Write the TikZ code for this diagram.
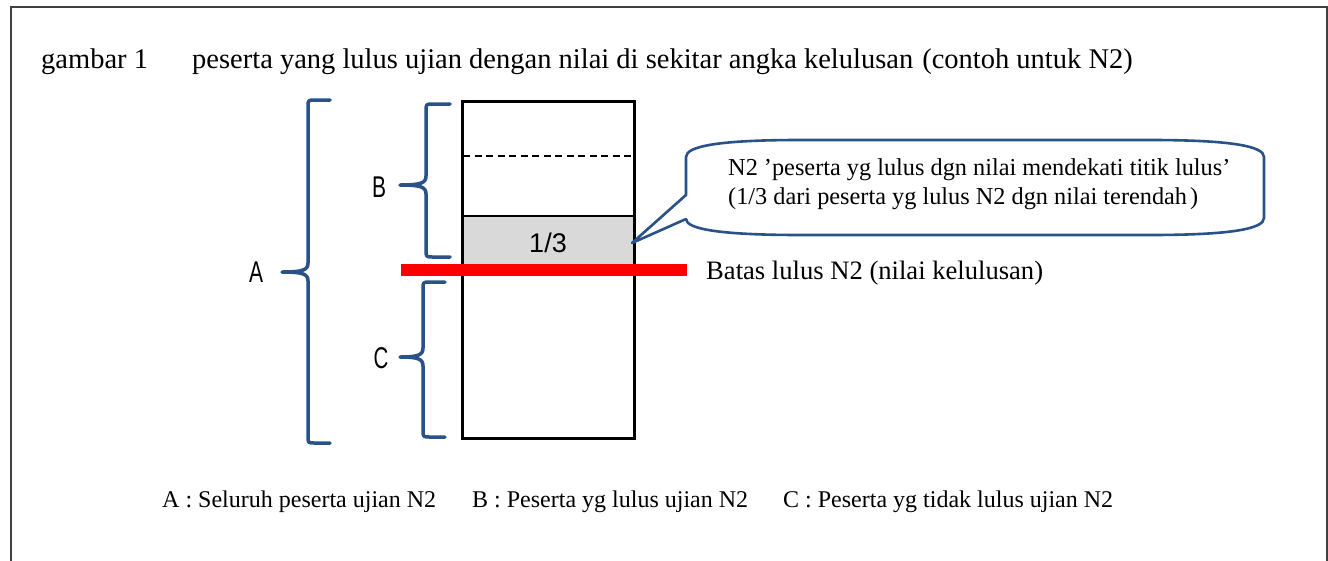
\documentclass[tikz,border=0pt]{standalone}
\usepackage{fontspec}
\setmainfont{Liberation Serif}
\newfontfamily\labfont{Liberation Sans}
\definecolor{braceblue}{RGB}{41,82,136}
\definecolor{grayfill}{RGB}{217,217,217}
\definecolor{framegray}{RGB}{64,64,64}
\newcommand\bracepath[6]{% tipx, spinex, cuspx, ytop, ycusp, ybot
  \draw[bracestyle] (#1,#4) -- (#2+7,#4) .. controls (#2,#4) and (#2,#4) .. (#2,#4+7)
    -- (#2,#5-9) .. controls (#2,#5-2) and (#2-5,#5) .. (#3,#5)
    .. controls (#2-5,#5) and (#2,#5+2) .. (#2,#5+9)
    -- (#2,#6-7) .. controls (#2,#6) and (#2,#6) .. (#2+7,#6) -- (#1,#6);}
\begin{document}
\begin{tikzpicture}[x=1pt,y=-1pt,
  bracestyle/.style={draw=braceblue,line width=3.5pt,line cap=round,line join=round},
  lab/.style={inner sep=0pt,font=\labfont\fontsize{30}{32}\selectfont},
  txt/.style={inner sep=0pt,anchor=base west},
  colbox/.style={draw=black,line width=2.5pt}]
\useasboundingbox (0,0) rectangle (1328,560);
\fill[white] (0,0) rectangle (1328,560);
% frame
\draw[framegray,line width=2.2pt] (11,562) -- (11,7) -- (1327,7) -- (1327,562);
% title
\node[txt,font=\fontsize{28.5}{32}\selectfont] (t1) at (41,68) {gambar 1};
\node[txt,font=\fontsize{28.5}{32}\selectfont] (t2) at (192,68) {peserta yang lulus ujian dengan nilai di sekitar angka kelulusan\hspace{9pt}(contoh untuk N2)};
% column
\fill[grayfill] (461,216) rectangle (633,270);
\node[colbox,minimum width=172pt,minimum height=337pt,inner sep=0pt,anchor=north west] (col) at (461,100) {};
\draw[line width=2pt,dash pattern=on 7pt off 4.5pt] (463,156) -- (632,156);
\draw[line width=2.5pt] (461,216) -- (633,216);
\node[inner sep=0pt,anchor=base,font=\labfont\fontsize{27}{30}\selectfont] (third) at (548,252) {1/3};
% red line
\draw[red,line width=12pt] (401,270) -- (687,270);
\node[txt,font=\fontsize{26.6}{30}\selectfont] (batas) at (706,279) {Batas lulus N2 (nilai kelulusan)};
% braces
\bracepath{330}{308}{282}{100}{272}{443}
\bracepath{450}{426}{400}{104}{185}{257}
\bracepath{445}{423}{400}{282}{357}{437}
\node[lab] (A) at (256,272.5) {\scalebox{0.7}[1]{A}};
\node[lab] (B) at (379,187) {\scalebox{0.7}[1]{B}};
\node[lab] (C) at (381,358) {\scalebox{0.68}[1]{C}};
% callout
\draw[braceblue,line width=2.6pt,line join=round,fill=white]
  (686,195) -- (686,157) .. controls (686,146) and (720,140) .. (800,140) -- (1150,140)
  .. controls (1230,140) and (1264,146) .. (1264,157) -- (1264,218)
  .. controls (1264,229) and (1230,235) .. (1150,235) -- (800,235)
  .. controls (720,235) and (686,229) .. (686,219) -- (632,243) -- cycle;
\node[txt,font=\fontsize{24.3}{28}\selectfont] (cl1) at (728,175) {N2 ’peserta yg lulus dgn nilai mendekati titik lulus’};
\node[txt,font=\fontsize{24.3}{28}\selectfont] (cl2) at (728,204) {(1/3 dari peserta yg lulus N2 dgn nilai terendah\hspace{3pt})};
% legend
\node[txt,font=\fontsize{24}{28}\selectfont] (legA) at (162,507) {A : Seluruh peserta ujian N2};
\node[txt,font=\fontsize{24}{28}\selectfont] (legB) at (472,507) {B : Peserta yg lulus ujian N2};
\node[txt,font=\fontsize{24}{28}\selectfont] (legC) at (783,507) {C : Peserta yg tidak lulus ujian N2};
\end{tikzpicture}
\end{document}
